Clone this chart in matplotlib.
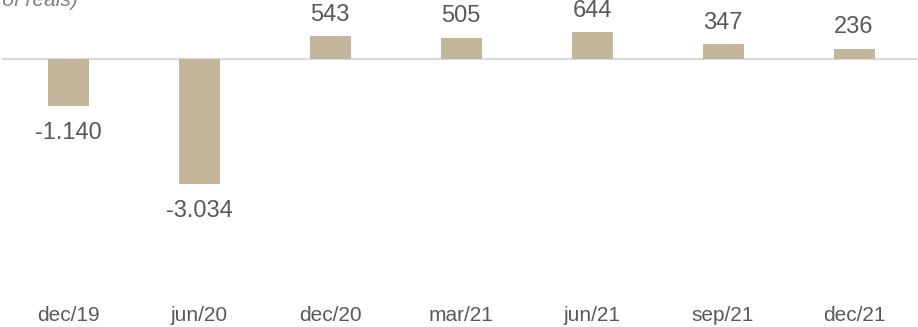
import matplotlib.pyplot as plt

categories = ["dec/19", "jun/20", "dec/20", "mar/21", "jun/21", "sep/21", "dec/21"]
values = [-1140, -3034, 543, 505, 644, 347, 236]
value_labels = ["-1.140", "-3.034", "543", "505", "644", "347", "236"]

bar_color = "#C4B69A"
text_color = "#595959"

plt.rcParams['font.family'] = ['Liberation Sans', 'DejaVu Sans']

W, H = 918, 327
fig = plt.figure(figsize=(W / 100, H / 100), dpi=100)
zero_px = 58.5
bottom_px = 302
scale = 0.0413  # pixels per unit
ax = fig.add_axes([0, (H - bottom_px) / H, 1, bottom_px / H])

x = list(range(len(categories)))
ax.bar(x, values, width=41 / 131, color=bar_color, zorder=2)
ax.axhline(0, xmin=3 / W, xmax=1, color="#D9D9D9", lw=1.6, zorder=1)

ax.set_xlim(-68 / 131, (W - 68) / 131)
ax.set_ylim(-(bottom_px - zero_px) / scale, zero_px / scale)

for xi, v, lab in zip(x, values, value_labels):
    if v > 0:
        ax.annotate(lab, (xi, v), xytext=(0, 11), textcoords="offset points",
                    ha="center", va="baseline", fontsize=17, color=text_color)
    else:
        ax.annotate(lab, (xi, v), xytext=(0, -19.4), textcoords="offset points",
                    ha="center", va="center", fontsize=17, color=text_color)

ax.set_xticks(x)
ax.set_xticklabels(categories, fontsize=15, color=text_color)
ax.tick_params(axis="x", length=0, pad=3)
ax.set_yticks([])
for s in ax.spines.values():
    s.set_visible(False)

fig.text(78 / W, 1 - 6 / H, "(in millions of reais)", ha="right", va="baseline",
         fontsize=15, style="italic", color="#7F7F7F")

fig.savefig("out.png", dpi=100)
